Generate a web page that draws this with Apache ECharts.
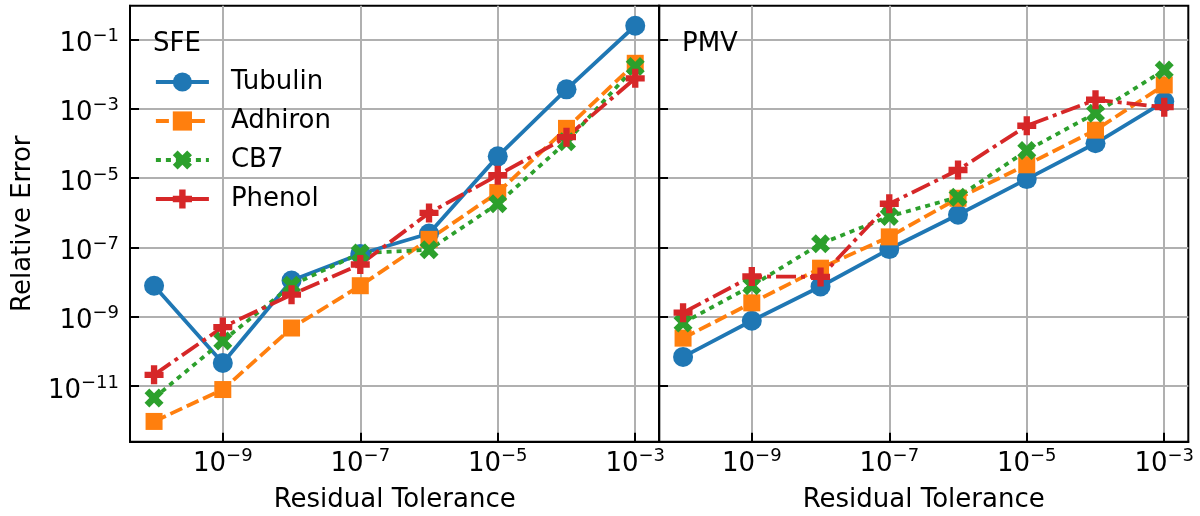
<!DOCTYPE html>
<html><head><meta charset="utf-8">
<script src="https://cdn.jsdelivr.net/npm/echarts@6/dist/echarts.min.js"></script>
<style>html,body{margin:0;padding:0;background:#fff}#c{width:1200px;height:516px}</style>
</head><body><div id="c"></div>
<script>
// ---- data ----
const tolerances = [1e-10, 1e-9, 1e-8, 1e-7, 1e-6, 1e-5, 1e-4, 1e-3];
const seriesNames = ['Tubulin', 'Adhiron', 'CB7', 'Phenol'];
const panelTitles = ['SFE', 'PMV'];
const sfeTubulin = [7.8e-9, 4.6e-11, 1.1e-8, 6.4e-8, 2.5e-7, 4.2e-5, 3.6e-3, 0.246];
const sfeAdhiron = [9.5e-13, 7.9e-12, 4.7e-10, 7.8e-9, 1.7e-7, 3.8e-6, 2.7e-4, 0.0203];
const sfeCB7 = [4.5e-12, 2.0e-10, 8.0e-9, 6.8e-8, 8.5e-8, 1.8e-6, 1.1e-4, 0.0163];
const sfePhenol = [2.1e-11, 5.0e-10, 4.3e-9, 3.2e-8, 9.8e-7, 1.2e-5, 1.5e-4, 7.5e-3];
const pmvTubulin = [6.9e-11, 7.6e-10, 7.4e-9, 8.9e-8, 8.7e-7, 9.3e-6, 1.0e-4, 1.6e-3];
const pmvAdhiron = [2.4e-10, 2.5e-9, 2.5e-8, 2.0e-7, 2.6e-6, 2.4e-5, 2.4e-4, 4.8e-3];
const pmvCB7 = [6.6e-10, 7.8e-9, 1.26e-7, 7.8e-7, 2.8e-6, 6.2e-5, 7.4e-4, 0.013];
const pmvPhenol = [1.3e-9, 1.45e-8, 1.4e-8, 1.8e-6, 1.7e-5, 3.2e-4, 1.8e-3, 1.1e-3];
const xTickValues = [1e-9, 1e-7, 1e-5, 1e-3];
const yTickValues = [1e-11, 1e-9, 1e-7, 1e-5, 1e-3, 1e-1];
const xName = 'Residual Tolerance';
const yName = 'Relative Error';

// ---- styling ----
const FONT = 'DejaVu Sans';
const X_PATH = 'path://M1,0 L2,1 L3,0 L4,1 L3,2 L4,3 L3,4 L2,3 L1,4 L0,3 L1,2 L0,1 Z';
const P_PATH = 'path://M2,0 L4,0 L4,2 L6,2 L6,4 L4,4 L4,6 L2,6 L2,4 L0,4 L0,2 L2,2 Z';
const styles = {
  Tubulin: { color: '#1f77b4', symbol: 'circle', symbolSize: 20, dash: 'solid' },
  Adhiron: { color: '#ff7f0e', symbol: 'rect', symbolSize: 17, dash: [13, 5] },
  CB7: { color: '#2ca02c', symbol: X_PATH, symbolSize: 19, dash: [5, 5] },
  Phenol: { color: '#d62728', symbol: P_PATH, symbolSize: 19, dash: [20, 5, 4, 5] }
};
const panels = [
  [sfeTubulin, sfeAdhiron, sfeCB7, sfePhenol],
  [pmvTubulin, pmvAdhiron, pmvCB7, pmvPhenol]
];

function fmt(v) {
  const e = Math.round(Math.log10(v));
  return '{b|10}{s|' + (e < 0 ? '\u2212' : '') + Math.abs(e) + '}';
}
const rich = {
  b: { fontSize: 26, lineHeight: 34, fontFamily: FONT, color: '#000' },
  s: { fontSize: 18, lineHeight: 22, verticalAlign: 'top', fontFamily: FONT, color: '#000' }
};

const gridLefts = [130, 659];
const grids = gridLefts.map(l => ({
  left: l, top: 5.7, width: 529.3, height: 436,
  containLabel: false, outerBoundsMode: 'none',
  show: true, borderColor: '#000', borderWidth: 2, backgroundColor: 'transparent'
}));

const xAxes = [0, 1].map(i => ({
  type: 'log', logBase: 10, gridIndex: i,
  min: Math.pow(10, -10.35), max: Math.pow(10, -2.65),
  name: xName, nameLocation: 'middle', nameGap: 46,
  nameTextStyle: { fontSize: 26, color: '#000', fontFamily: FONT },
  axisLine: { show: true, onZero: false, lineStyle: { color: '#000', width: 2 } },
  axisTick: { show: true, inside: true, length: 9, customValues: xTickValues, lineStyle: { color: '#000', width: 2 } },
  axisLabel: { show: true, customValues: xTickValues, formatter: fmt, rich: rich, margin: 6, color: '#000' },
  splitLine: { show: true, lineStyle: { color: '#b0b0b0', width: 2 } },
  minorTick: { show: false }, minorSplitLine: { show: false }
}));

const yAxes = [0, 1].map(i => ({
  type: 'log', logBase: 10, gridIndex: i,
  min: Math.pow(10, -12.607), max: Math.pow(10, -0.031),
  name: i === 0 ? yName : '', nameLocation: 'middle', nameGap: 94, nameRotate: 90,
  nameTextStyle: { fontSize: 26, color: '#000', fontFamily: FONT },
  axisLine: { show: true, onZero: false, lineStyle: { color: '#000', width: 2 } },
  axisTick: { show: true, inside: true, length: 9, customValues: yTickValues, lineStyle: { color: '#000', width: 2 } },
  axisLabel: { show: i === 0, customValues: yTickValues, formatter: fmt, rich: rich, margin: 11, color: '#000', padding: [10, 0, 0, 0] },
  splitLine: { show: true, lineStyle: { color: '#b0b0b0', width: 2 } },
  minorTick: { show: false }, minorSplitLine: { show: false }
}));

const series = [];
panels.forEach((vals, gi) => {
  seriesNames.forEach((name, k) => {
    const st = styles[name];
    series.push({
      name: name, type: 'line', xAxisIndex: gi, yAxisIndex: gi,
      data: tolerances.map((t, j) => [t, vals[k][j]]),
      symbol: st.symbol, symbolSize: st.symbolSize, symbolKeepAspect: true,
      itemStyle: { color: st.color, borderWidth: 0 },
      lineStyle: { color: st.color, width: 3.8, type: st.dash },
      emphasis: { disabled: true },
      clip: false
    });
  });
});

const chart = echarts.init(document.getElementById('c'), null, { renderer: 'canvas' });
chart.setOption({
  animation: false,
  backgroundColor: '#fff',
  textStyle: { fontFamily: FONT },
  title: panelTitles.map((t, i) => ({
    text: t, left: i === 0 ? 153 : 682, top: 31, padding: 0,
    textStyle: { fontSize: 26, fontWeight: 'normal', color: '#000', fontFamily: FONT }
  })),
  legend: {
    data: seriesNames, orient: 'vertical', left: 154, top: 69, padding: 0,
    itemWidth: 53, itemHeight: 24, itemGap: 13,
    lineStyle: { width: 3.8 },
    textStyle: { fontSize: 26, color: '#000', fontFamily: FONT, lineHeight: 22, padding: [0, 0, 0, 17] }
  },
  grid: grids,
  xAxis: xAxes,
  yAxis: yAxes,
  series: series
});
</script></body></html>
